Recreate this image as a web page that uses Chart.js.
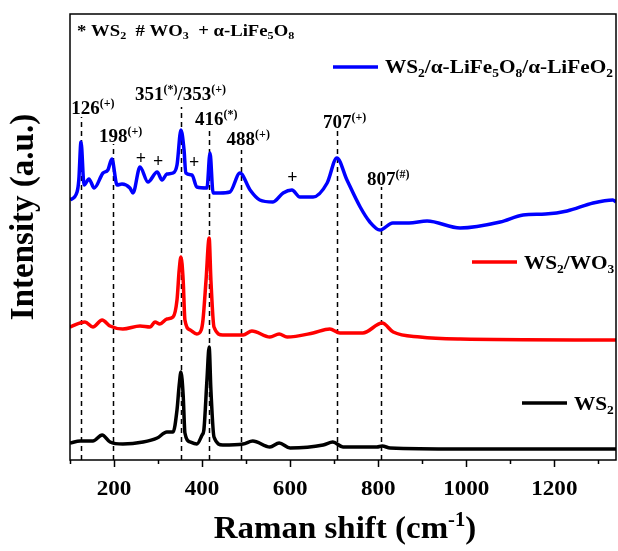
<!DOCTYPE html>
<html>
<head>
<meta charset="utf-8">
<script src="https://cdn.jsdelivr.net/npm/chart.js@4.4.1/dist/chart.umd.min.js"></script>
<style>
  html, body { margin: 0; padding: 0; background: #fff; }
</style>
</head>
<body>
<canvas id="chart" width="618" height="551"></canvas>
<script>
// spectra (Raman shift in cm-1, intensity in a.u. with offsets)
const wsShift = [100, 123, 152, 173, 191, 220, 266, 298, 320, 334, 343, 348, 352, 357, 361, 373, 388, 400, 404, 411, 416, 420, 427, 447, 493, 515, 554, 575, 600, 675, 697, 720, 797, 809, 827, 986, 1340]
const wsIntensity = [17, 19, 19, 25, 18, 16, 18, 22, 28, 28, 50, 75, 88, 65, 27, 18, 16, 25, 30, 80, 113, 70, 23, 15, 16, 19, 13, 17, 12, 15, 18, 13, 13, 14, 12, 11, 11]

const woShift = [100, 134, 152, 173, 191, 220, 259, 282, 293, 304, 320, 334, 343, 348, 352, 357, 361, 373, 388, 398, 402, 409, 416, 420, 427, 447, 493, 513, 554, 575, 593, 652, 690, 713, 765, 809, 834, 895, 986, 1340]
const woIntensity = [133, 138, 133, 140, 134, 131, 134, 133, 138, 136, 141, 143, 160, 190, 203, 180, 140, 130, 126, 130, 140, 180, 222, 180, 133, 125, 125, 129, 123, 126, 123, 127, 131, 127, 127, 137, 128, 123, 121, 120]

const lfoShift = [100, 116, 120, 125, 132, 143, 155, 175, 186, 195, 207, 218, 236, 243, 259, 277, 298, 309, 320, 334, 343, 352, 359, 363, 377, 388, 411, 418, 425, 441, 463, 486, 509, 531, 561, 584, 604, 622, 652, 684, 706, 729, 759, 781, 804, 833, 870, 911, 986, 1077, 1129, 1180, 1229, 1288, 1333, 1340]
const lfoIntensity = [260, 268, 280, 318, 275, 281, 272, 287, 290, 301, 275, 276, 272, 267, 293, 278, 288, 280, 286, 287, 295, 330, 310, 287, 285, 273, 272, 307, 267, 267, 268, 287, 270, 260, 258, 267, 270, 263, 263, 277, 302, 280, 253, 238, 230, 237, 237, 239, 232, 238, 245, 246, 249, 257, 260, 258]

const seriesNames = ['WS{_2}', 'WS{_2}/WO{_3}', 'WS{_2}/α-LiFe{_5}O{_8}/α-LiFeO{_2}']
const seriesColors = ['#000000', '#ff0000', '#0000ff']

// assigned peaks: dashed guide lines with labels
const peakShift = [126, 198, 351, 416, 488, 707, 807]
const peakLabels = ['126{^(+)}', '198{^(+)}', '351{^(*)}/353{^(+)}', '416{^(*)}', '488{^(+)}', '707{^(+)}', '807{^(#)}']
const peakTop = [343, 316, 353, 331, 310, 329, 273]
const peakLabelY = [346, 318, 360, 335, 315, 332, 275]

// extra "+" marks (α-LiFe5O8)
const plusShift = [261, 300, 382, 605]
const plusY = [301, 298, 297, 282]

const tickValues = [200, 400, 600, 800, 1000, 1200]
const minorValues = [100, 300, 500, 700, 900, 1100, 1300]

const note = '* WS{_2}  # WO{_3}  + α-LiFe{_5}O{_8}'

const FONT = '"Liberation Serif", "Times New Roman", serif'

function parts(str) {
  const out = []
  const re = /\{([_^])([^}]*)\}/g
  let last = 0, m
  while ((m = re.exec(str))) {
    if (m.index > last) out.push({ t: str.slice(last, m.index), k: '' })
    out.push({ t: m[2], k: m[1] })
    last = re.lastIndex
  }
  if (last < str.length) out.push({ t: str.slice(last), k: '' })
  return out
}

function segFont(size, k) {
  return `bold ${k ? Math.round(size * 0.64) : size}px ${FONT}`
}

function richWidth(ctx, segs, size) {
  let w = 0
  segs.forEach(s => { ctx.font = segFont(size, s.k); w += ctx.measureText(s.t).width })
  return w
}

// draws text with {_sub} and {^sup} parts; sx stretches it sideways
function drawRich(ctx, str, x, y, size, align, sx = 1) {
  const segs = parts(str)
  const w = richWidth(ctx, segs, size) * sx
  let start = x
  if (align === 'center') start = x - w / 2
  if (align === 'right') start = x - w
  if (align === 'first') {
    ctx.font = segFont(size, '')
    start = x - ctx.measureText(segs[0].t).width * sx / 2
  }
  ctx.save()
  ctx.translate(start, y)
  ctx.scale(sx, 1)
  ctx.textBaseline = 'alphabetic'
  ctx.textAlign = 'left'
  let cx = 0
  segs.forEach(s => {
    ctx.font = segFont(size, s.k)
    const dy = s.k === '_' ? size * 0.2 : s.k === '^' ? -size * 0.36 : 0
    ctx.fillText(s.t, cx, dy)
    cx += ctx.measureText(s.t).width
  })
  ctx.restore()
}

const guides = {
  id: 'guides',
  beforeDatasetsDraw(chart) {
    const { ctx, scales: { x, y } } = chart
    ctx.save()
    ctx.strokeStyle = '#000'
    ctx.lineWidth = 1.5
    ctx.setLineDash([5, 4])
    peakShift.forEach((p, i) => {
      const px = Math.round(x.getPixelForValue(p)) + 0.5
      ctx.beginPath()
      ctx.moveTo(px, y.getPixelForValue(0))
      ctx.lineTo(px, y.getPixelForValue(peakTop[i]))
      ctx.stroke()
    })
    ctx.restore()
  },
  afterDraw(chart) {
    const { ctx, chartArea: a, scales: { x, y } } = chart
    ctx.save()
    ctx.fillStyle = '#000'
    ctx.strokeStyle = '#000'

    // frame
    ctx.lineWidth = 1.5
    ctx.strokeRect(a.left, a.top, a.right - a.left, a.bottom - a.top)

    // ticks
    ctx.beginPath()
    tickValues.forEach(v => {
      const px = Math.round(x.getPixelForValue(v)) + 0.5
      ctx.moveTo(px, a.bottom); ctx.lineTo(px, a.bottom + 7)
    })
    minorValues.forEach(v => {
      const px = Math.round(x.getPixelForValue(v)) + 0.5
      ctx.moveTo(px, a.bottom); ctx.lineTo(px, a.bottom + 4)
    })
    ctx.stroke()

    tickValues.forEach(v => drawRich(ctx, String(v), x.getPixelForValue(v), 495, 21, 'center', 1.1))

    // axis titles
    drawRich(ctx, 'Raman shift (cm{^-1})', (a.left + a.right) / 2 + 2, 538, 32, 'center', 1.03)
    ctx.save()
    ctx.translate(33, 217)
    ctx.rotate(-Math.PI / 2)
    drawRich(ctx, 'Intensity (a.u.)', 0, 0, 33, 'center')
    ctx.restore()

    // peak labels
    peakShift.forEach((p, i) => {
      drawRich(ctx, peakLabels[i], x.getPixelForValue(p) + (i === 0 ? 4 : 0),
        y.getPixelForValue(peakLabelY[i]), 19, i === 2 ? 'center' : 'first')
    })
    ctx.font = `bold 18px ${FONT}`
    ctx.textAlign = 'center'
    ctx.textBaseline = 'middle'
    plusShift.forEach((p, i) => ctx.fillText('+', x.getPixelForValue(p), y.getPixelForValue(plusY[i])))

    // note and legend entries
    drawRich(ctx, note, 77, 36, 17, 'left', 1.1)
    const legendPos = [[522, 403, 410], [472, 262, 269], [333, 67, 73]]
    legendPos.forEach(([lx, ly, tb], i) => {
      ctx.strokeStyle = seriesColors[i]
      ctx.lineWidth = 3.5
      ctx.beginPath()
      ctx.moveTo(lx, ly); ctx.lineTo(lx + 45, ly)
      ctx.stroke()
      ctx.fillStyle = '#000'
      drawRich(ctx, seriesNames[i], lx + 52, tb, 19, 'left', 1.12)
    })
    ctx.restore()
  }
}

const toPoints = (xs, ys) => xs.map((v, i) => ({ x: v, y: ys[i] }))

new Chart(document.querySelector('#chart'), {
  type: 'line',
  data: {
    datasets: [
      { label: 'WS2', data: toPoints(wsShift, wsIntensity), borderColor: seriesColors[0] },
      { label: 'WS2/WO3', data: toPoints(woShift, woIntensity), borderColor: seriesColors[1] },
      { label: 'WS2/α-LiFe5O8/α-LiFeO2', data: toPoints(lfoShift, lfoIntensity), borderColor: seriesColors[2] }
    ]
  },
  options: {
    responsive: false,
    animation: false,
    layout: { padding: { top: 14, right: 2, left: 0, bottom: 0 } },
    elements: {
      point: { radius: 0 },
      line: { borderWidth: 3.5, cubicInterpolationMode: 'monotone', borderJoinStyle: 'round' }
    },
    plugins: { legend: { display: false }, tooltip: { enabled: false } },
    scales: {
      x: {
        type: 'linear', min: 100, max: 1340,
        ticks: { display: false }, grid: { display: false }, border: { display: false },
        afterFit: s => { s.height = 91 }
      },
      y: {
        min: 0, max: 446,
        ticks: { display: false }, grid: { display: false }, border: { display: false },
        afterFit: s => { s.width = 70 }
      }
    }
  },
  plugins: [guides]
})
</script>
</body>
</html>
